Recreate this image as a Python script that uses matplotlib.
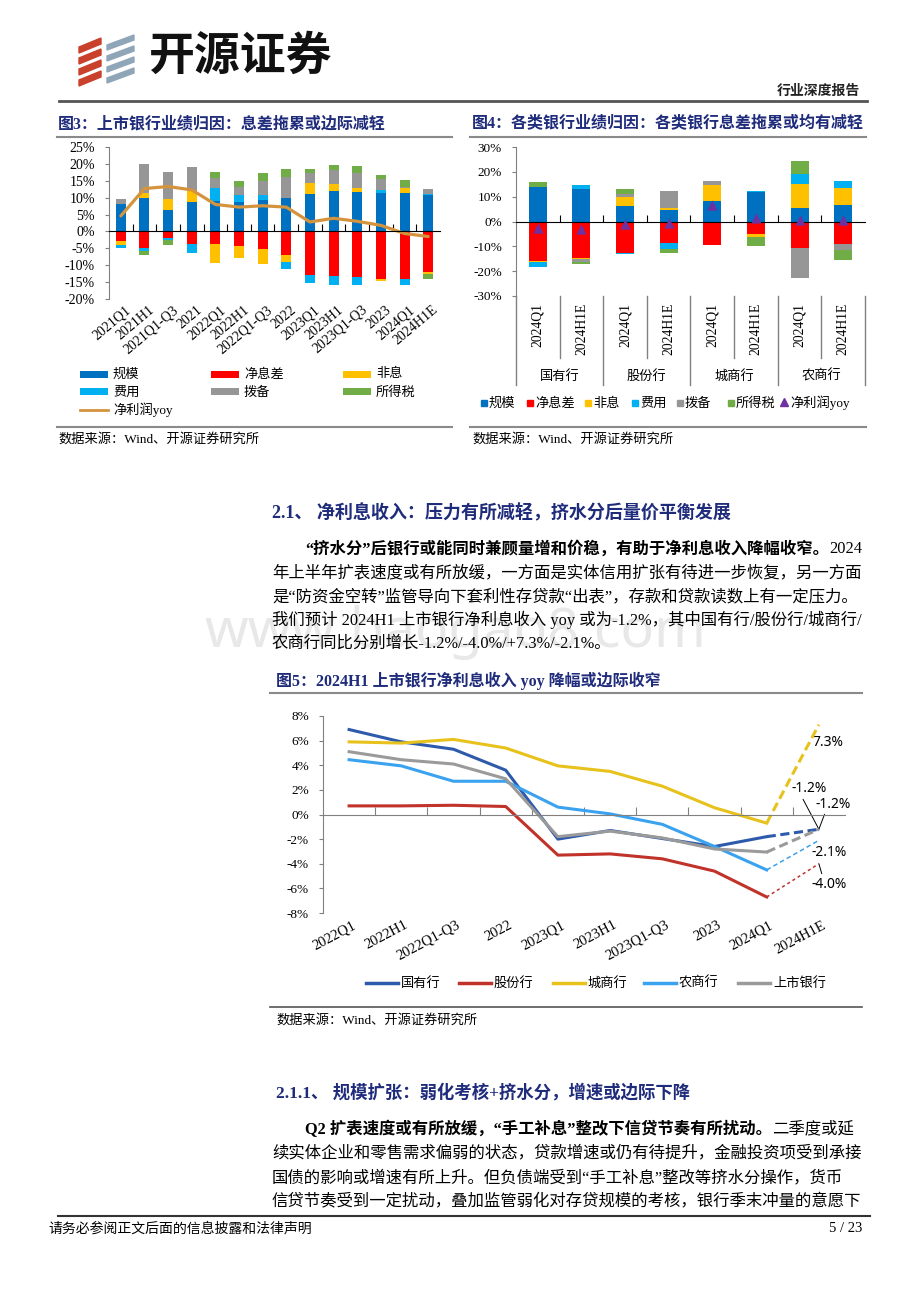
import numpy as np
import matplotlib
matplotlib.use('Agg')
import matplotlib.pyplot as plt
from matplotlib.patches import Rectangle, Polygon
from matplotlib.lines import Line2D

# ---------------- data ----------------
c3_categories = ['2021Q1', '2021H1', '2021Q1-Q3', '2021', '2022Q1', '2022H1', '2022Q1-Q3',
                 '2022', '2023Q1', '2023H1', '2023Q1-Q3', '2023', '2024Q1', '2024H1E']
c3_scale = [8.0, 10.0, 6.3, 8.7, 9.0, 8.8, 9.4, 10.0, 11.0, 12.0, 11.8, 11.5, 11.5, 10.8]
c3_nim = [-2.8, -5.0, -1.8, -3.8, -3.8, -4.2, -5.2, -7.0, -12.8, -13.2, -13.4, -14.2, -14.0, -12.0]
c3_nonint = [-1.1, 1.3, 3.3, 3.3, -5.4, -3.6, -4.5, -2.0, 3.2, 2.0, 1.2, -0.6, 1.3, -0.5]
c3_cost = [-1.1, -0.8, -0.7, -2.5, 4.0, 2.1, 1.5, -2.2, -2.6, -2.6, -2.6, 0.8, -1.8, 0.4]
c3_prov = [1.7, 8.7, 7.9, 7.0, 2.7, 2.2, 4.1, 6.0, 3.0, 4.3, 4.4, 3.3, 0.5, 1.3]
c3_tax = [0.0, -1.2, -1.5, 0.0, 1.8, 1.9, 2.4, 2.4, 1.2, 1.5, 2.0, 1.2, 1.8, -1.7]
c3_profit = [4.6, 12.7, 13.3, 12.3, 8.0, 7.2, 7.6, 7.2, 2.8, 3.9, 3.0, 1.8, -0.6, -1.5]

c4_groups = ['国有行', '股份行', '城商行', '农商行']
c4_periods = ['2024Q1', '2024H1E']
c4_scale = [13.9, 13.2, 6.1, 4.5, 8.4, 12.0, 5.5, 6.8]
c4_nim = [-16.0, -14.5, -12.6, -8.5, -9.6, -4.9, -10.5, -9.2]
c4_nonint = [-0.3, -0.7, 3.6, 0.8, 6.1, -1.4, 9.5, 6.6]
c4_cost = [-1.9, 1.3, -0.6, -2.7, 0.0, 0.4, 4.3, 3.1]
c4_prov = [0.0, -1.0, 1.3, 6.9, 1.7, 0.0, -12.3, -2.1]
c4_tax = [1.9, -0.8, 2.1, -1.3, 0.0, -3.7, 5.0, -4.1]
c4_profit = [-2.6, -3.2, -1.0, -0.8, 6.8, 1.5, 0.8, 0.5]

factor_names = ['规模', '净息差', '非息', '费用', '拨备', '所得税']
profit_name = '净利润yoy'

c5_periods = ['2022Q1', '2022H1', '2022Q1-Q3', '2022', '2023Q1', '2023H1', '2023Q1-Q3',
              '2023', '2024Q1', '2024H1E']
c5_names = ['国有行', '股份行', '城商行', '农商行', '上市银行']
c5_state = [6.9, 5.9, 5.3, 3.6, -2.0, -1.3, -1.95, -2.6, -1.8, -1.2]
c5_joint = [0.7, 0.7, 0.75, 0.65, -3.3, -3.2, -3.6, -4.6, -6.7, -4.0]
c5_city = [5.9, 5.8, 6.1, 5.4, 3.95, 3.5, 2.3, 0.55, -0.7, 7.3]
c5_rural = [4.45, 3.95, 2.7, 2.7, 0.6, 0.05, -0.8, -2.6, -4.5, -2.1]
c5_listed = [5.1, 4.45, 4.1, 2.9, -1.8, -1.35, -1.9, -2.8, -3.05, -1.2]

# ---------------- styles ----------------
FC = ['#0070C0', '#FF0000', '#FFC000', '#00B0F0', '#969696', '#70AD47']
PROFIT_LINE = '#D4943E'
PROFIT_MARK = '#7030A0'
C5_COL = ['#2E5AAC', '#C0322A', '#E8C21C', '#3AA2EE', '#9A9A9A']
NAVY = '#1F2B7B'
SER = ['Liberation Serif', 'Noto Sans CJK SC']
CJK = ['Noto Sans CJK SC', 'DejaVu Sans']
SANS = ['Noto Sans', 'DejaVu Sans']

W, H = 920.0, 1302.0
fig = plt.figure(figsize=(9.2, 13.02), dpi=100)
fig.patch.set_facecolor('white')
renderer = fig.canvas.get_renderer()


def X(x):
    return x / W


def Y(y):
    return 1 - y / H


def ftext(x, y, s, size, family=SER, **kw):
    kw.setdefault('va', 'center')
    kw.setdefault('ha', 'left')
    return fig.text(X(x), Y(y), s, fontsize=size, family=family, **kw)


def hline(x0, x1, y, color='#808080', lw=1.0):
    fig.add_artist(Line2D([X(x0), X(x1)], [Y(y), Y(y)], transform=fig.transFigure,
                          color=color, lw=lw))


def runs(x, y, parts, size):
    cx = x
    for s, bold in parts:
        t = ftext(cx, y, s, size, weight='bold' if bold else 'normal', color='black')
        cx += t.get_window_extent(renderer).width


def axes_px(l, t, r, b):
    return fig.add_axes([X(l), Y(b), (r - l) / W, (b - t) / H])


def stacked(ax, xs, series, colors, width):
    pos = np.zeros(len(xs))
    neg = np.zeros(len(xs))
    for vals, c in zip(series, colors):
        v = np.asarray(vals, float)
        bottom = np.where(v >= 0, pos, neg)
        ax.bar(xs, v, width, bottom=bottom, color=c, linewidth=0, zorder=2)
        pos = pos + np.where(v >= 0, v, 0)
        neg = neg + np.where(v < 0, v, 0)


def style_axis(ax, yticks, ysize, spine_col='#808080', zero_col='black'):
    for s in ['top', 'right']:
        ax.spines[s].set_visible(False)
    ax.spines['left'].set_color(spine_col)
    ax.spines['bottom'].set_position(('data', 0))
    ax.spines['bottom'].set_color(zero_col)
    ax.spines['bottom'].set_zorder(5)
    ax.set_yticks(yticks)
    ax.set_yticklabels([f'{v}%' for v in yticks], family=SER, fontsize=ysize)
    ax.tick_params(axis='y', direction='out', length=3, pad=7, color=spine_col)
    ax.tick_params(axis='x', direction='in', length=5, labelbottom=False, color=zero_col)
    ax.set_facecolor('none')


# ---------------- header ----------------
for i in range(4):
    y0 = 38 + i * 11
    fig.add_artist(Polygon([(X(79), Y(y0 + 9)), (X(101), Y(y0)), (X(101), Y(y0 + 6)),
                            (X(79), Y(y0 + 15))], closed=True, transform=fig.transFigure,
                           color='#C9402B'))
    fig.add_artist(Polygon([(X(107), Y(y0 + 7)), (X(134), Y(y0 - 3)), (X(134), Y(y0 + 2)),
                            (X(107), Y(y0 + 12))], closed=True, transform=fig.transFigure,
                           color='#8FA6B9'))
ftext(148, 57, '开源证券', 33, family=CJK, weight='bold', color='#111111')
ftext(860, 91, '行业深度报告', 10, family=CJK, weight='bold', ha='right', color='#222222')
hline(59, 867, 101, color='#555555', lw=2.0)

# ---------------- chart 3 ----------------
ftext(58, 124, '图3：上市银行业绩归因：息差拖累或边际减轻', 11.5, weight='bold', color=NAVY)
hline(57, 452, 137, color='#8a8a8a', lw=1.5)
ax3 = axes_px(109, 147, 440, 299)
x3 = np.arange(len(c3_categories))
stacked(ax3, x3, [c3_scale, c3_nim, c3_nonint, c3_cost, c3_prov, c3_tax], FC, 0.42)
ax3.plot(x3, c3_profit, color=PROFIT_LINE, lw=2.3, zorder=4, solid_capstyle='round')
ax3.set_xlim(-0.5, len(c3_categories) - 0.5)
ax3.set_ylim(-20, 25)
style_axis(ax3, list(range(-20, 30, 5)), 10)
ax3.set_xticks(np.arange(0.5, len(c3_categories) - 0.5, 1))
for i, lab in enumerate(c3_categories):
    ax3.annotate(lab, xy=(i, 0), xycoords=ax3.get_xaxis_transform(), xytext=(3, -3),
                 textcoords='offset points', rotation=40, ha='right', va='top',
                 rotation_mode='anchor', family=SER, fontsize=10)

leg3 = [(80, 374, 0), (211, 374, 1), (343, 374, 2), (80, 392, 3), (211, 392, 4), (343, 392, 5)]
for hx, hy, k in leg3:
    fig.add_artist(Rectangle((X(hx), Y(hy + 3.5)), 28 / W, 7 / H, transform=fig.transFigure,
                             color=FC[k], lw=0))
    ftext(hx + 33, hy, factor_names[k], 9.5, family=CJK)
fig.add_artist(Line2D([X(80), X(108)], [Y(410), Y(410)], transform=fig.transFigure,
                      color=PROFIT_LINE, lw=2))
ftext(113, 410, profit_name, 9.5)
hline(57, 452, 427, color='#8a8a8a', lw=1.5)
ftext(58, 439, '数据来源：Wind、开源证券研究所', 9.5)

# ---------------- chart 4 ----------------
ftext(472, 124, '图4：各类银行业绩归因：各类银行息差拖累或均有减轻', 11.5, weight='bold', color=NAVY)
hline(470, 866, 137, color='#8a8a8a', lw=1.5)
ax4 = axes_px(516, 147, 865, 296)
n4 = len(c4_groups) * len(c4_periods)
x4 = np.arange(n4)
stacked(ax4, x4, [c4_scale, c4_nim, c4_nonint, c4_cost, c4_prov, c4_tax], FC, 0.41)
ax4.scatter(x4, c4_profit, marker='^', s=55, color=PROFIT_MARK, zorder=6, linewidths=0)
ax4.set_xlim(-0.5, n4 - 0.5)
ax4.set_ylim(-30, 30)
style_axis(ax4, list(range(-30, 40, 10)), 9.5)
ax4.set_xticks(np.arange(0.5, n4 - 0.5, 1))
trans4 = ax4.get_xaxis_transform()
ax_h4 = 296 - 147
for i in range(n4):
    ax4.text(i, -7 / ax_h4, c4_periods[i % 2], transform=trans4, rotation=90, ha='center',
             va='top', family=SER, fontsize=9.8)
for b in np.arange(-0.5, n4, 1):
    long_ = (round(b + 0.5) % 2 == 0)
    yb = -(385 - 296) / ax_h4 if long_ else -(358 - 296) / ax_h4
    ax4.add_line(Line2D([b, b], [0, yb], transform=trans4, color='#808080', lw=1,
                        clip_on=False))
for g, name in enumerate(c4_groups):
    ax4.text(2 * g + 0.5, -(376 - 296) / ax_h4, name, transform=trans4, ha='center',
             va='center', family=CJK, fontsize=9.5)

leg4 = [481, 527, 585, 632, 677, 728]
for k, lx in enumerate(leg4):
    fig.add_artist(Line2D([X(lx + 3)], [Y(403)], transform=fig.transFigure, marker='s',
                          markersize=5, color=FC[k], lw=0))
    ftext(lx + 8, 403, factor_names[k], 9.5, family=CJK)
fig.add_artist(Line2D([X(784)], [Y(402)], transform=fig.transFigure, marker='^',
                      markersize=6, color=PROFIT_MARK, lw=0))
ftext(790, 403, profit_name, 9.5)
hline(470, 866, 427, color='#8a8a8a', lw=1.5)
ftext(472, 439, '数据来源：Wind、开源证券研究所', 9.5)

# ---------------- section text 1 ----------------
ftext(272, 513, '2.1、 净利息收入：压力有所减轻，挤水分后量价平衡发展', 13, weight='bold', color=NAVY)
fig.text(X(455), Y(632), 'www.baogao8.com', fontsize=40, color='#E8E8E8', ha='center',
         va='center', family=SANS, zorder=0)
runs(305, 549, [('“挤水分”后银行或能同时兼顾量增和价稳，有助于净利息收入降幅收窄。', True),
                ('2024', False)], 11.8)
ftext(272, 573, '年上半年扩表速度或有所放缓，一方面是实体信用扩张有待进一步恢复，另一方面', 11.8)
ftext(272, 597, '是“防资金空转”监管导向下套利性存贷款“出表”，存款和贷款读数上有一定压力。', 11.8)
ftext(272, 620, '我们预计 2024H1 上市银行净利息收入 yoy 或为-1.2%，其中国有行/股份行/城商行/', 11.8)
ftext(272, 644, '农商行同比分别增长-1.2%/-4.0%/+7.3%/-2.1%。', 11.8)

# ---------------- chart 5 ----------------
ftext(276, 681, '图5：2024H1 上市银行净利息收入 yoy 降幅或边际收窄', 11.5, weight='bold', color=NAVY)
hline(270, 862, 693, color='#8a8a8a', lw=1.5)
ax5 = axes_px(323, 716, 845, 913)
x5 = np.arange(len(c5_periods))
series5 = [c5_state, c5_joint, c5_city, c5_rural, c5_listed]
dash_lw = [2.2, 1.1, 2.2, 1.1, 2.2]
dash_style = [(0, (3, 1.5)), (0, (2, 2)), (0, (3, 1.5)), (0, (3, 2)), (0, (3, 1.5))]
order = [4, 3, 2, 1, 0]
for k in order:
    v = series5[k]
    ax5.plot(x5[:-1], v[:-1], color=C5_COL[k], lw=2.2, zorder=3 + k * 0.1,
             solid_joinstyle='round')
    ax5.plot(x5[-2:], v[-2:], color=C5_COL[k], lw=dash_lw[k], ls=dash_style[k],
             zorder=3 + k * 0.1)
ax5.set_xlim(-0.5, len(c5_periods) - 0.5)
ax5.set_ylim(-8, 8)
style_axis(ax5, list(range(-8, 10, 2)), 9.5, zero_col='#808080')
ax5.set_xticks(np.arange(0.5, len(c5_periods) - 0.5, 1))
ax5.tick_params(axis='x', length=6)
for i, lab in enumerate(c5_periods):
    ax5.annotate(lab, xy=(i, 0), xycoords=ax5.get_xaxis_transform(), xytext=(2, -4),
                 textcoords='offset points', rotation=28, ha='right', va='top',
                 rotation_mode='anchor', family=SER, fontsize=10.5)

last = len(c5_periods) - 1
ann = [(c5_city, '7.3%', (812, 743), False),
       (c5_state, '-1.2%', (791, 789), True),
       (c5_listed, '-1.2%', (815, 804), True),
       (c5_rural, '-2.1%', (812, 852), False),
       (c5_joint, '-4.0%', (812, 884), True)]
for vals, lab, (tx, ty), lead in ann:
    ax5.annotate(lab, xy=(last, vals[last]), xycoords='data', xytext=(tx, H - ty),
                 textcoords='figure pixels', ha='left', va='center', family=SANS,
                 fontsize=10, annotation_clip=False,
                 arrowprops=dict(arrowstyle='-', color='black', lw=0.7, shrinkA=0,
                                 shrinkB=0, relpos=(0.3, 0.0 if ty < 850 else 1.0))
                 if lead else None)

leg5 = [366, 459, 553, 644, 738]
for k, lx in enumerate(leg5):
    fig.add_artist(Line2D([X(lx), X(lx + 32)], [Y(983), Y(983)], transform=fig.transFigure,
                          color=C5_COL[k], lw=2.5))
    ftext(lx + 35, 983, c5_names[k], 9.5, family=CJK)
hline(270, 862, 1007, color='#555555', lw=1.2)
ftext(276, 1020, '数据来源：Wind、开源证券研究所', 9.5)

# ---------------- section text 2 ----------------
ftext(276, 1093, '2.1.1、 规模扩张：弱化考核+挤水分，增速或边际下降', 12.5, weight='bold', color=NAVY)
runs(305, 1129, [('Q2 扩表速度或有所放缓，“手工补息”整改下信贷节奏有所扰动。', True),
                 ('二季度或延', False)], 11.8)
ftext(272, 1153, '续实体企业和零售需求偏弱的状态，贷款增速或仍有待提升，金融投资项受到承接', 11.8)
ftext(272, 1178, '国债的影响或增速有所上升。但负债端受到“手工补息”整改等挤水分操作，货币', 11.8)
ftext(272, 1202, '信贷节奏受到一定扰动，叠加监管弱化对存贷规模的考核，银行季末冲量的意愿下', 11.8)

# ---------------- footer ----------------
hline(58, 870, 1216, color='#333333', lw=1.5)
ftext(48, 1229, '请务必参阅正文后面的信息披露和法律声明', 10, family=CJK)
ftext(862, 1229, '5 / 23', 10.5, ha='right')

fig.savefig('out.png', dpi=100, facecolor='white')
